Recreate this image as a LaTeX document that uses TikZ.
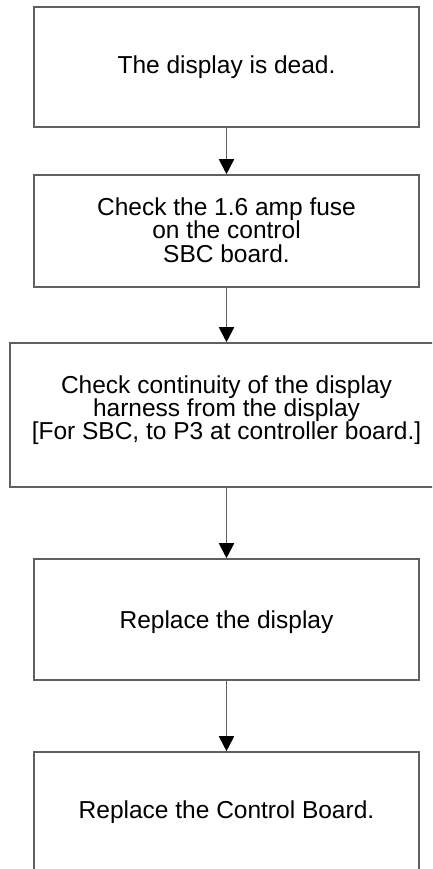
\documentclass[tikz,border=0pt]{standalone}
\usepackage{fontspec}
\setmainfont{Liberation Sans}
\usetikzlibrary{arrows.meta}
\begin{document}
\begin{tikzpicture}[x=1pt,y=-1pt,
  box/.style={draw=linegray,line width=1.6pt,inner sep=0pt,minimum width=385pt},
  wide/.style={minimum width=433pt},
  txt/.style={anchor=base,inner sep=0pt,font=\fontsize{24.5}{24.5}\selectfont},
  conn/.style={draw=linegray,line width=1.8pt,-{Triangle[length=15pt,width=15pt,color=black]}}]
\definecolor{linegray}{HTML}{606060}
\useasboundingbox (0,0) rectangle (432,869);
\clip (0,0) rectangle (432,869);
\node[box,minimum height=120pt] (b1) at (226.5,67) {};
\node[box,minimum height=112pt] (b2) at (226.5,231) {};
\node[box,wide,minimum height=144pt] (b3) at (226.5,415) {};
\node[box,minimum height=121pt] (b4) at (226.5,619.5) {};
\node[box,minimum height=134pt] (b5) at (226.5,819) {};
\node[txt] (t1) at (226.5,74) {The display is dead.};
\node[txt] (t2a) at (226.5,215) {Check the 1.6 amp fuse};
\node[txt] (t2b) at (226.5,238.5) {on the control};
\node[txt] (t2c) at (226.5,262) {SBC board.};
\node[txt] (t3a) at (226.5,393) {Check continuity of the display};
\node[txt] (t3b) at (226.5,416) {harness from the display};
\node[txt] (t3c) at (226.5,439) {[For SBC, to P3 at controller board.]};
\node[txt] (t4) at (226.5,628) {Replace the display};
\node[txt] (t5) at (226.5,818) {Replace the Control Board.};
\draw[conn] (b1.south) -- (b2.north);
\draw[conn] (b2.south) -- (b3.north);
\draw[conn] (b3.south) -- (b4.north);
\draw[conn] (b4.south) -- (b5.north);
\end{tikzpicture}
\end{document}
